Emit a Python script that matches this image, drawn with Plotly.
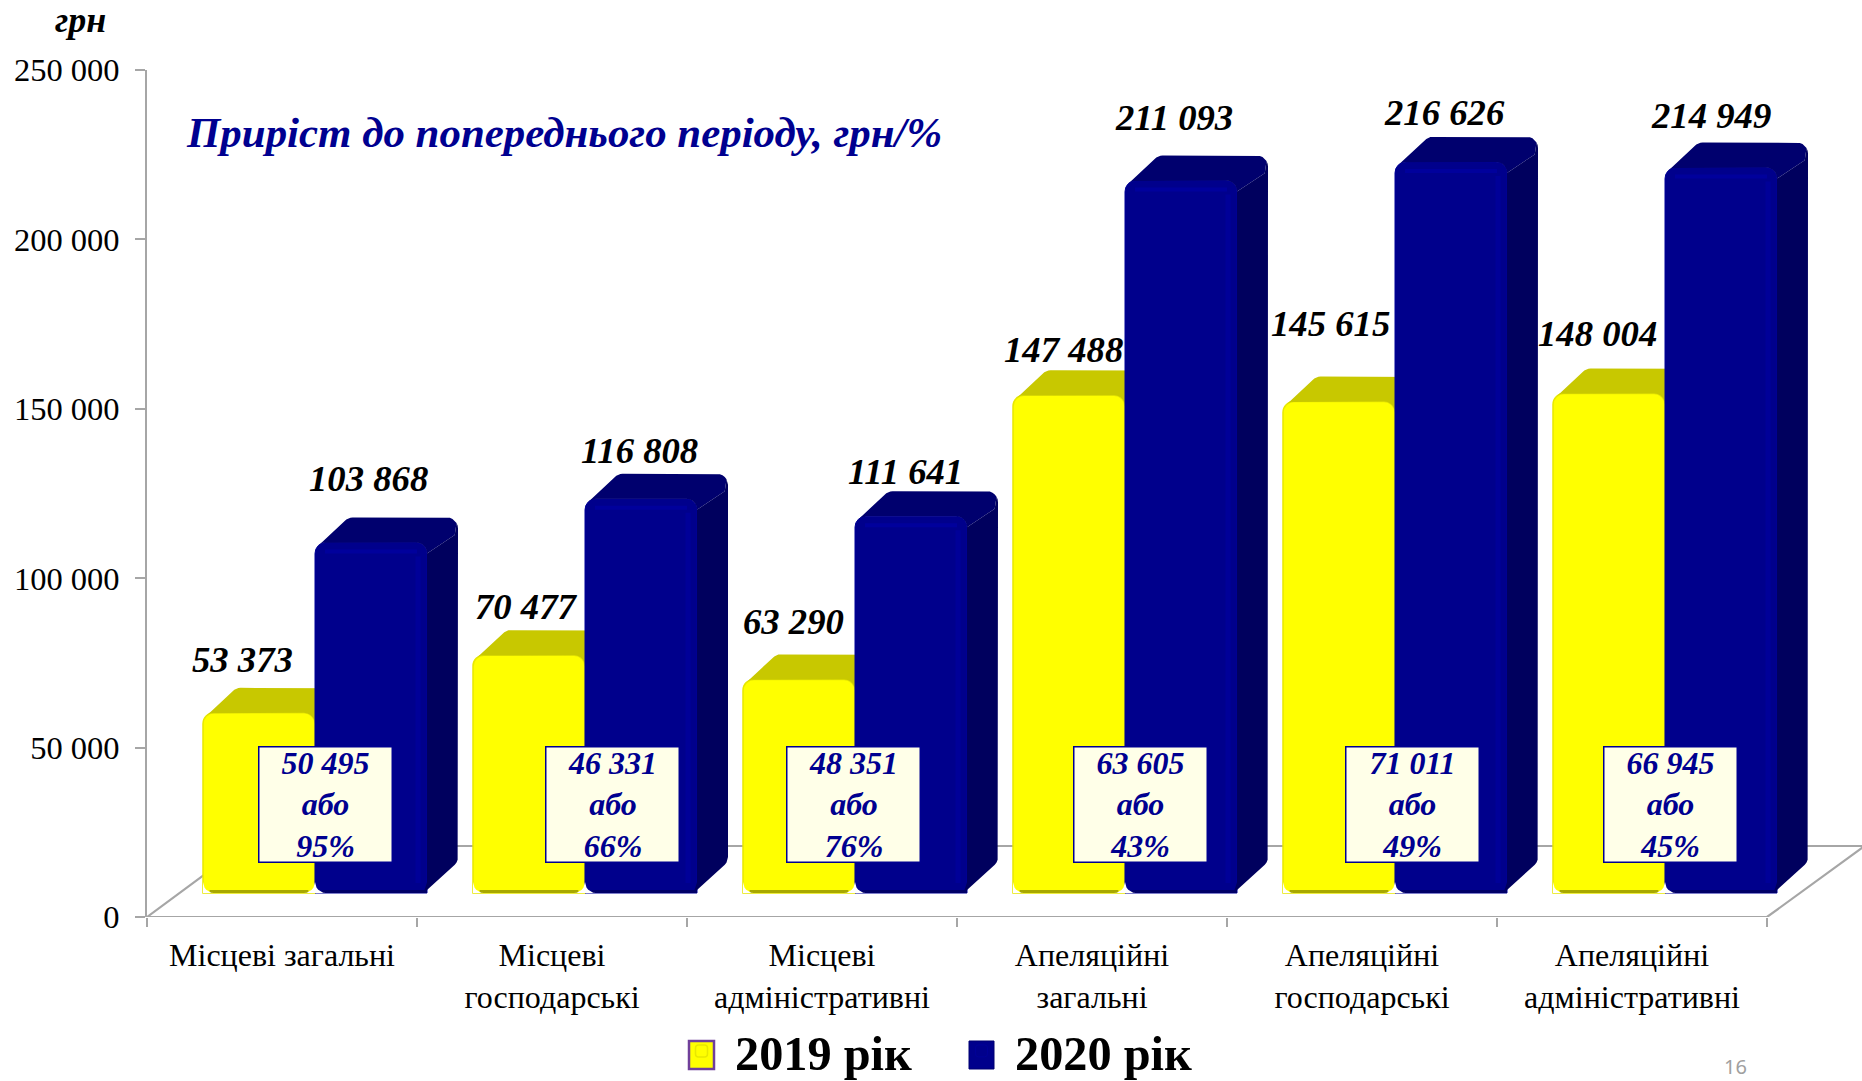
import math
import plotly.graph_objects as go

# ---- data ----
CATEGORIES = ["Місцеві загальні", "Місцеві<br>господарські", "Місцеві<br>адміністративні",
              "Апеляційні<br>загальні", "Апеляційні<br>господарські", "Апеляційні<br>адміністративні"]
VALUES_2019 = [53373, 70477, 63290, 147488, 145615, 148004]
VALUES_2020 = [103868, 116808, 111641, 211093, 216626, 214949]
GROWTH_AMOUNT = ["50 495", "46 331", "48 351", "63 605", "71 011", "66 945"]
GROWTH_PCT = ["95%", "66%", "76%", "43%", "49%", "45%"]
Y_TICKS = [0, 50000, 100000, 150000, 200000, 250000]
Y_TICK_TEXT = ["0", "50 000", "100 000", "150 000", "200 000", "250 000"]
SERIES_NAMES = ["2019 рік", "2020 рік"]

# ---- label placement (pixels relative to bar top / centre) ----
LABEL_DX_2019 = [-17, -3, -6, -6, -9, -12]
LABEL_DY_2019 = [53, 49, 58, 46, 78, 60]
LABEL_DX_2020 = [-3, -2, -6, -7, -7, -10]
LABEL_DY_2020 = [64, 48, 45, 63, 49, 52]
BOX_LEFT_PX = [258, 545, 786, 1073, 1345, 1603]

# ---- geometry ----
W, H = 1862, 1081
L, T, B0 = 147, 70, 917          # plot area
STEP = 270                       # px per category
PX_Y_MAIN = 847 / 250000         # px per unit, back axis
PX_Y = 3.375 / 1000              # px per unit, front plane of bars
BASE_PX = 893                    # front plane baseline
CENTER0 = 315                    # px of group 0 centre
BAR_W = 112 / STEP
DX, DY = 31 / STEP, 25 / PX_Y    # bar depth
FLOOR_DX, FLOOR_DY = 96 / STEP, 71 / PX_Y_MAIN
R = 11                           # corner radius, px
GRAY = "#A6A6A6"
SERIF = "Liberation Serif"
x_max = (W - L) / STEP
x_front = [(L - CENTER0) / STEP, (W - CENTER0) / STEP]
y_front = [(BASE_PX - B0) / PX_Y, (BASE_PX - T) / PX_Y]
rx, ry = R / STEP, R / PX_Y


def px(x):
    return (x - L) / (W - L)


def py(y):
    return (B0 - y) / (B0 - T)


def arc(cx, cy, a0, a1, n=6):
    return [(cx + rx * math.cos(math.radians(a0 + (a1 - a0) * k / n)),
             cy + ry * math.sin(math.radians(a0 + (a1 - a0) * k / n))) for k in range(n + 1)]


def poly_trace(polys, color, xa, ya):
    xs, ys = [], []
    for p in polys:
        xs += [q[0] for q in p] + [p[0][0], None]
        ys += [q[1] for q in p] + [p[0][1], None]
    return go.Scatter(x=xs, y=ys, xaxis=xa, yaxis=ya, mode="lines", fill="toself", fillcolor=color,
                      line=dict(width=0, color=color), hoverinfo="skip", showlegend=False)


def line_trace(paths, color, width, xa, ya):
    xs, ys = [], []
    for p in paths:
        xs += [q[0] for q in p] + [None]
        ys += [q[1] for q in p] + [None]
    return go.Scatter(x=xs, y=ys, xaxis=xa, yaxis=ya, mode="lines",
                      line=dict(width=width, color=color), hoverinfo="skip", showlegend=False)


def top_poly(xl, xr, v):
    front = arc(xr - rx, v - ry, 0, 90, 5) + arc(xl + rx, v - ry, 90, 135, 3)
    back = (arc(xl + DX + rx * .6, v + DY - ry, 125, 90, 3) +
            arc(xr + DX - rx, v + DY - ry, 90, 30, 4))
    return back + [(xr + DX - rx * .3, v + DY - ry * 1.6)] + front


def side_poly(xr, v):
    return ([(xr, v - ry), (xr + DX - rx * .3, v + DY - ry * 1.6)] +
            arc(xr + DX - rx, v + DY - ry, 30, 0, 2) +
            arc(xr + DX - rx, DY + ry, 0, -45, 3) + [(xr - rx * .3, 0), (xr, ry)])


def corner_mask(xc, sign):
    """white corner piece that rounds a bar's lower corner"""
    if sign > 0:
        a = arc(xc - rx, ry, 0, -90, 6)
    else:
        a = arc(xc + rx, ry, 180, 270, 6)
    return a + [(xc, 0)]


idx = list(range(6))
fig = go.Figure()

# floor and axis
fig.add_trace(line_trace([[(0, 0), (FLOOR_DX, FLOOR_DY), (x_max + .01, FLOOR_DY), (6, 0), (0, 0)]],
                         GRAY, 2.2, "x", "y"))

# 2019 bars (first overlay)
fig.add_trace(go.Bar(x=idx, y=VALUES_2019, name=SERIES_NAMES[0], xaxis="x2", yaxis="y2", width=BAR_W,
                     offset=-BAR_W, marker=dict(color="#FFFF00", cornerradius=R,
                                                line=dict(color="#E8E800", width=1.5)),
                     hoverinfo="skip"))
fig.add_trace(poly_trace([top_poly(i - BAR_W, i, v) for i, v in zip(idx, VALUES_2019)],
                         "#C8C800", "x2", "y2"))
fig.add_trace(line_trace([[(i - BAR_W + rx * .6, 1.5 / PX_Y), (i - rx * .6, 1.5 / PX_Y)] for i in idx],
                         "#A8A800", 3, "x2", "y2"))

# 2020 bars (second overlay)
fig.add_trace(go.Bar(x=idx, y=VALUES_2020, name=SERIES_NAMES[1], xaxis="x3", yaxis="y3", width=BAR_W,
                     offset=0, marker=dict(color="#00008C", cornerradius=R,
                                           line=dict(color="#000098", width=1)),
                     hoverinfo="skip"))
fig.add_trace(poly_trace([top_poly(i, i + BAR_W, v) for i, v in zip(idx, VALUES_2020)],
                         "#00006E", "x3", "y3"))
fig.add_trace(poly_trace([side_poly(i + BAR_W, v) for i, v in zip(idx, VALUES_2020)],
                         "#00005E", "x3", "y3"))
fig.add_trace(line_trace([[(i + BAR_W - 9 / STEP, 10 / PX_Y), (i + BAR_W - 9 / STEP, v - 14 / PX_Y)]
                          for i, v in zip(idx, VALUES_2020)], "#000098", 5, "x3", "y3"))
fig.add_trace(line_trace([[(i + 10 / STEP, v - 9 / PX_Y), (i + BAR_W - 10 / STEP, v - 9 / PX_Y)]
                          for i, v in zip(idx, VALUES_2020)], "#00009C", 4, "x3", "y3"))
fig.add_trace(line_trace([[(i + rx * .6, 1.5 / PX_Y), (i + BAR_W, 1.5 / PX_Y)] for i in idx],
                         "#000068", 3, "x3", "y3"))
# rounded lower corners
masks = []
for i in idx:
    masks += [corner_mask(i - BAR_W, -1), corner_mask(i, 1), corner_mask(i, -1)]
fig.add_trace(poly_trace(masks, "#FFFFFF", "x3", "y3"))

ann = []
lab_font = dict(family=SERIF, size=36.7, color="#000000", style="italic", weight="bold")
for i in idx:
    ann.append(dict(x=i - BAR_W / 2, y=VALUES_2019[i], xref="x2", yref="y2", text=f"{VALUES_2019[i]:,}".replace(",", " "),
                    showarrow=False, xshift=LABEL_DX_2019[i], yshift=LABEL_DY_2019[i], font=lab_font,
                    xanchor="center", yanchor="middle"))
    ann.append(dict(x=i + BAR_W / 2, y=VALUES_2020[i], xref="x3", yref="y3", text=f"{VALUES_2020[i]:,}".replace(",", " "),
                    showarrow=False, xshift=LABEL_DX_2020[i], yshift=LABEL_DY_2020[i], font=lab_font,
                    xanchor="center", yanchor="middle"))
    ann.append(dict(x=px(BOX_LEFT_PX[i] + 67), y=py(804), xref="paper", yref="paper",
                    text=f"{GROWTH_AMOUNT[i]}<br>або<br>{GROWTH_PCT[i]}", showarrow=False,
                    width=132, height=114, bgcolor="#FFFFE8", bordercolor="#000090", borderwidth=1.5, borderpad=0,
                    font=dict(family=SERIF, size=32, color="#000090", style="italic", weight="bold"),
                    xanchor="center", yanchor="middle", align="center", valign="middle"))

ann.append(dict(x=px(184), y=py(133), xref="paper", yref="paper", text="Приріст до попереднього періоду, грн/%",
                showarrow=False, xanchor="left", yanchor="middle",
                font=dict(family=SERIF, size=42.9, color="#000090", style="italic", weight="bold")))
ann.append(dict(x=px(80), y=py(20), xref="paper", yref="paper", text="грн", showarrow=False,
                xanchor="center", yanchor="middle",
                font=dict(family=SERIF, size=36, color="#000000", style="italic", weight="bold")))
ann.append(dict(x=px(1735), y=py(1066), xref="paper", yref="paper", text="16", showarrow=False,
                xanchor="center", yanchor="middle", font=dict(family="Noto Sans", size=20, color="#A0A0A0")))

# big legend swatches sitting behind the legend's own markers
shapes = [
    dict(type="rect", xref="paper", yref="paper", x0=px(689), x1=px(714), y0=py(1069), y1=py(1041),
         fillcolor="#FFFF00", line=dict(color="#70409A", width=2.5), layer="below"),
    dict(type="rect", xref="paper", yref="paper", x0=px(969), x1=px(994), y0=py(1069), y1=py(1041),
         fillcolor="#00008C", line=dict(color="#000070", width=1), layer="below"),
]

hidden = dict(visible=False, showgrid=False, zeroline=False)
fig.update_layout(
    width=W, height=H, margin=dict(l=L, r=0, t=T, b=H - B0, autoexpand=False), paper_bgcolor="white", plot_bgcolor="white",
    barmode="overlay", annotations=ann, shapes=shapes,
    font=dict(family=SERIF, color="#000000"),
    xaxis=dict(range=[0, x_max], tickvals=[i + .5 for i in idx], ticktext=CATEGORIES, ticks="",
               tickfont=dict(size=32, family=SERIF), showgrid=False, zeroline=False, showline=False,
               ticklabelstandoff=16,
               minor=dict(tick0=0, dtick=1, ticks="outside", ticklen=9, tickwidth=2, tickcolor=GRAY, showgrid=False)),
    yaxis=dict(range=[0, 250000], tickvals=Y_TICKS, ticktext=Y_TICK_TEXT, ticks="outside", ticklen=10,
               tickwidth=2, tickcolor=GRAY, showline=True, linewidth=2, linecolor=GRAY, showgrid=False,
               zeroline=False, tickfont=dict(size=32.5, family=SERIF), ticklabelstandoff=9),
    xaxis2=dict(range=x_front, overlaying="x", **hidden),
    yaxis2=dict(range=y_front, overlaying="y", **hidden),
    xaxis3=dict(range=x_front, overlaying="x", **hidden),
    yaxis3=dict(range=y_front, overlaying="y", **hidden),
    showlegend=True,
    legend=dict(orientation="h", x=px(668), xanchor="left", y=py(1051), yanchor="middle",
                itemwidth=57, entrywidth=208, entrywidthmode="pixels", bgcolor="rgba(0,0,0,0)", tracegroupgap=0,
                font=dict(family=SERIF, size=48.3, color="#000000", weight="bold"), itemclick=False, itemdoubleclick=False),
)
fig.write_html("out.html", config=dict(displayModeBar=False),
               post_script="document.body.style.margin='0';document.body.style.overflow='hidden';")
